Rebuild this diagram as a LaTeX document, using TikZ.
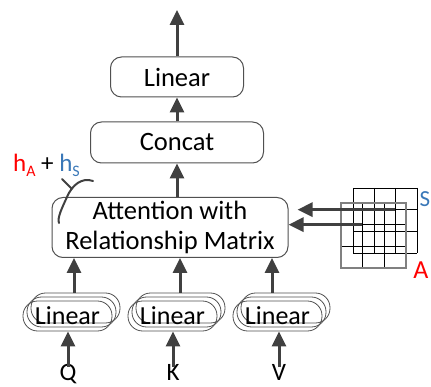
\documentclass[tikz,border=0pt]{standalone}
\usepackage{fontspec}
\setmainfont{Carlito}
\usetikzlibrary{arrows.meta}
\definecolor{boxc}{HTML}{505050}
\definecolor{arrc}{HTML}{404040}
\definecolor{blueS}{HTML}{3A78B8}
\definecolor{redA}{HTML}{FF0000}
\begin{document}
\begin{tikzpicture}[x=1pt,y=-1pt,
  box/.style={draw=boxc, line width=1pt, rounded corners=11pt, align=center,
    font=\fontsize{26.5}{30}\selectfont, inner sep=0pt},
  lbox/.style={draw=boxc, line width=0.8pt, rounded corners=14.6pt,
    minimum width=89pt, minimum height=30pt, inner sep=0pt,
    font=\fontsize{26}{30}\selectfont},
  arr/.style={draw=arrc, line width=3pt, -{Triangle[length=15pt,width=14pt]}},
  lbl/.style={font=\fontsize{25}{28}\selectfont, inner sep=0pt, anchor=base},
  gridline/.style={draw=black, line width=0.8pt},
  gridborder/.style={draw=gray, line width=1.5pt}]
\useasboundingbox (0,0) rectangle (431,387);

% main boxes
\node[box, minimum width=133pt, minimum height=40pt] (lin) at (177,77) {Linear};
\node[box, minimum width=173pt, minimum height=41pt] (cat) at (177,142.5) {Concat};
\node[box, minimum width=236pt, minimum height=60pt] (att) at (170,227.5)
  {Attention with\\Relationship Matrix};
\coordinate (out) at (177,10);

\draw[arr] (lin.north) -- (out);
\draw[arr] (cat.north) -- (lin.south);
\draw[arr] (cat.south |- att.north) -- (cat.south);

% stacked linear boxes
\foreach \n/\cx in {1/67.5, 2/172.5, 3/277.5}{
  \node[lbox] (l\n c) at (\cx+8,308) {};
  \node[lbox] (l\n b) at (\cx+4,312) {};
  \node[lbox] (l\n) at (\cx,316) {\raisebox{-1pt}{Linear}};
}
\coordinate (p1) at (74,293);
\coordinate (p2) at (180,293);
\coordinate (p3) at (272,293);
\foreach \n in {1,2,3}{
  \draw[arr] (p\n) -- (p\n |- att.south);
}

% inputs
\node[lbl] (q) at (68,380) {Q};
\node[lbl] (k) at (173,380) {K};
\node[lbl] (v) at (279,380) {V};
\draw[arr] ([yshift=-3pt]q.north) -- (q.north |- l1.south);
\draw[arr] ([yshift=-3pt]k.north) -- (k.north |- l2.south);
\draw[arr] ([yshift=-3pt]v.north) -- (v.north |- l3.south);

% S grid
\foreach \i in {0,1,2,3}{
  \draw[gridline] (353+\i*21.33,188) -- (353+\i*21.33,253);
  \draw[gridline] (353,188+\i*21.67) -- (417,188+\i*21.67);
}
% A grid
\foreach \i in {1,2}{
  \draw[gridline] (341+\i*21.67,203) -- (341+\i*21.67,268);
  \draw[gridline] (341,203+\i*21.67) -- (406,203+\i*21.67);
}
\draw[gridborder] (341,203) rectangle (406,268);

\node[anchor=east, text=blueS, font=\fontsize{23}{28}\selectfont, inner sep=0pt] (slab) at (430.5,199) {S};
\node[text=redA, font=\fontsize{26}{30}\selectfont, inner sep=0pt] (alab) at (421,270) {A};

% side arrows
\coordinate (s1) at (395,209.67);
\coordinate (a2) at (362,224.67);
\draw[arr] (s1) -- ([xshift=9pt]att.east |- s1);
\draw[arr] (a2) -- (att.east |- a2);

% h_A + h_S label and brace
\node[anchor=base west, inner sep=0pt, font=\fontsize{25}{30}\selectfont] (hlab) at (13,172)
  {\textcolor{redA}{h\raisebox{-5pt}{\fontsize{16}{16}\selectfont A}} + \textcolor{blueS}{h\raisebox{-5pt}{\fontsize{16}{16}\selectfont S}}};
\coordinate (c1) at (93,181);
\coordinate (c2) at (59,223);
\coordinate (t1) at (62,179);
\coordinate (t2) at (72,189);
\draw[arrc, line width=2pt, line cap=round] (c1) .. controls (82,177) and (72,185) .. (67,197) .. controls (62,208) and (57,218) .. (c2);
\draw[arrc, line width=2pt, line cap=round] (t1) -- (t2);
\end{tikzpicture}
\end{document}
